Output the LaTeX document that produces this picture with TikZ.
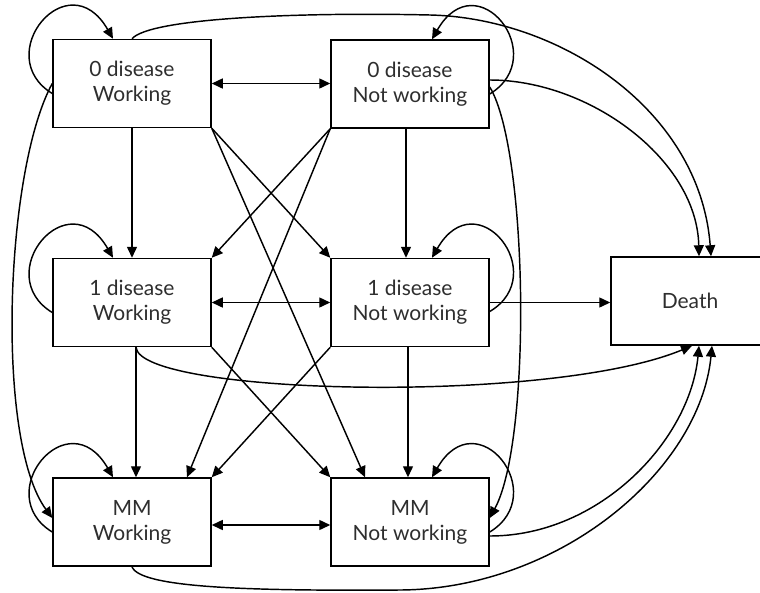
\documentclass[tikz,border=0pt]{standalone}
\usepackage{fontspec}
\setmainfont{Lato}
\usetikzlibrary{arrows.meta,calc}
\tikzset{
  box/.style={draw, line width=1.5pt, minimum width=158pt, minimum height=88pt,
    inner sep=0pt, align=center, font=\fontsize{21}{25}\selectfont, text=black!82},
  arr/.style={line width=1.45pt, -{Triangle[length=11pt,width=10pt]}},
  arrb/.style={line width=1.45pt, {Triangle[length=11pt,width=10pt]}-{Triangle[length=11pt,width=10pt]}},
}
\begin{document}
\begin{tikzpicture}[x=1pt,y=-1pt]
\useasboundingbox (0,0) rectangle (760,592);
% nodes
\node[box] (w0) at (132,83.5) {0 disease\\Working};
\node[box] (n0) at (410,84) {0 disease\\Not working};
\node[box] (w1) at (132,302.5) {1 disease\\Working};
\node[box] (n1) at (410,302.5) {1 disease\\Not working};
\node[box] (w2) at (132,522) {MM\\Working};
\node[box] (n2) at (410,522) {MM\\Not working};
\node[box] (d) at (690,301) {Death};

% self loops, left column
\draw[arr] ($(w0.west)+(0,10)$) .. controls (-10,55.5) and (68,-39.5) .. ($(w0.north)+(-19,0)$);
\draw[arr] ($(w1.west)+(0,10)$) .. controls (-10,274.5) and (68,179.5) .. ($(w1.north)+(-19,0)$);
\draw[arr] ($(w2.west)+(0,10)$) .. controls (-10,494) and (68,399) .. ($(w2.north)+(-19,0)$);
% self loops, right column
\draw[arr] ($(n0.east)+(0,10)$) .. controls (552,56) and (477,-39) .. ($(n0.north)+(22,0)$);
\draw[arr] ($(n1.east)+(0,9)$) .. controls (552,274.5) and (477,179.5) .. ($(n1.north)+(22,0)$);
\draw[arr] ($(n2.east)+(0,10)$) .. controls (552,494) and (477,399) .. ($(n2.north)+(22,0)$);

% horizontal two-way
\draw[arrb] (w0.east) -- (w0.east -| n0.west);
\draw[arrb] (w1.east) -- (n1.west);
\draw[arrb] ($(w2.east)+(0,3)$) -- ($(n2.west)+(0,3)$);

% vertical
\draw[arr] (w0.south) -- (w1.north);
\draw[arr] ($(w1.south)+(4,0)$) -- ($(w2.north)+(4,0)$);
\draw[arr] ($(n0.south)+(-4,0)$) -- ($(n1.north)+(-4,0)$);
\draw[arr] ($(n1.south)+(-2,0)$) -- ($(n2.north)+(-2,0)$);

% diagonals
\draw[arr] (w0.south east) -- (n1.north west);
\draw[arr] (w0.south east) -- ($(n2.north)+(-45,0)$);
\draw[arr] (n0.south west) -- (w1.north east);
\draw[arr] (n0.south west) -- ($(w2.north)+(55,0)$);
\draw[arr] (w1.south east) -- (n2.north west);
\draw[arr] (n1.south west) -- (w2.north east);

% long side curves
\draw[arr] (w0.west) .. controls (5,170) and (-5,440) .. ($(w2.west)+(0,-4)$);
\draw[arr] ($(n0.east)+(0,3)$) .. controls (528,150) and (532,440) .. ($(n2.east)+(0,-4)$);

% to Death
\draw[arr] (n1.east) -- (n1.east -| d.west);
\draw[arr] ($(n0.east)+(0,-4)$) .. controls (590,80) and (697,160) .. ($(d.north)+(9,0)$);
\draw[arr] (w0.north) .. controls (150,18) and (300,12) .. (430,15)
  .. controls (560,18) and (700,110) .. ($(d.north)+(21,0)$);
\draw[arr] ($(w1.south)+(4,0)$) .. controls (140,395) and (550,405) .. ($(d.south)+(2,0)$);
\draw[arr] ($(n2.east)+(0,14)$) .. controls (600,536) and (690,440) .. ($(d.south)+(9,0)$);
\draw[arr] (w2.south) .. controls (140,588) and (250,591) .. (400,590)
  .. controls (560,589) and (700,470) .. ($(d.south)+(22,0)$);
\end{tikzpicture}
\end{document}
